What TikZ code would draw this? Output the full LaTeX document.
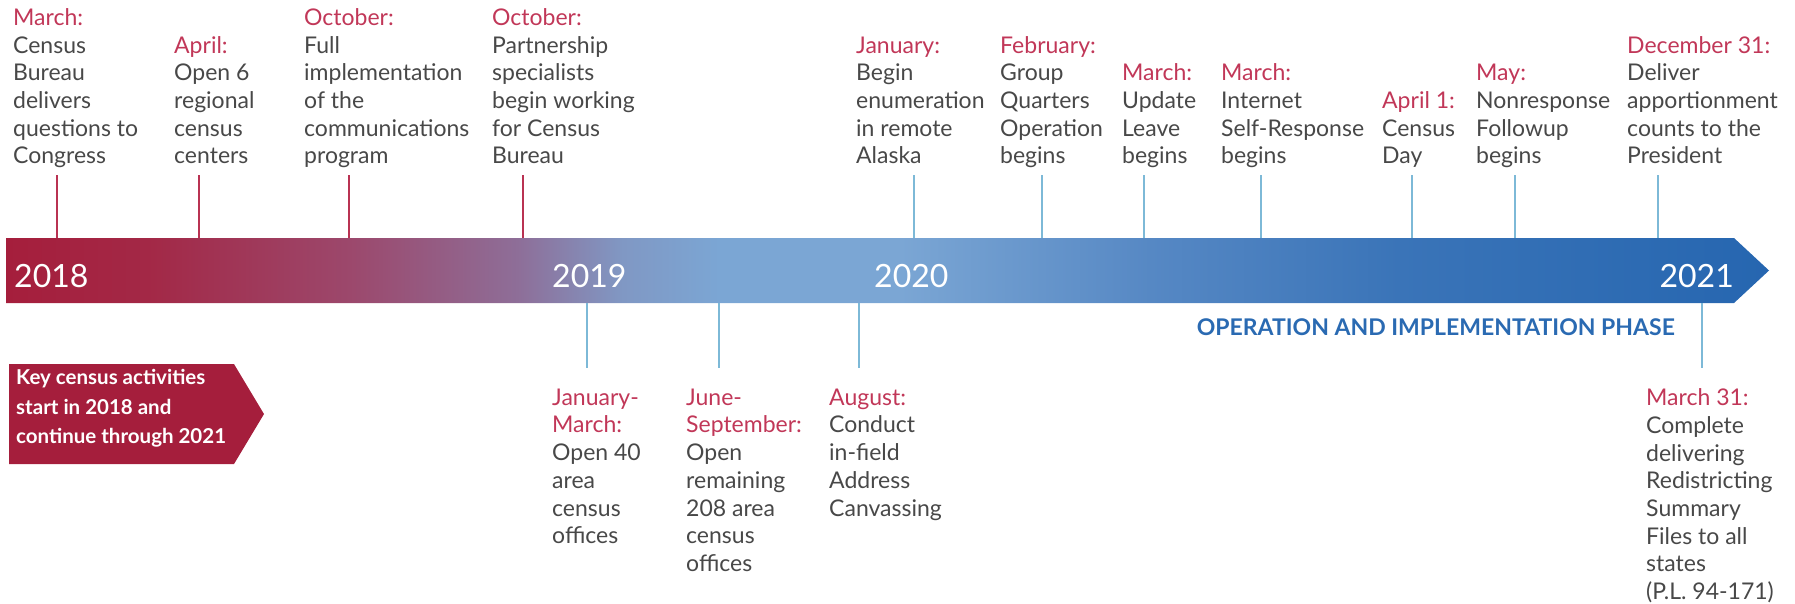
\documentclass[tikz,border=0pt]{standalone}
\usepackage{fontspec}
\setmainfont{Lato}

\definecolor{evgray}{RGB}{72,72,72}
\definecolor{monred}{RGB}{193,55,88}
\definecolor{keyred}{RGB}{165,30,60}
\definecolor{tickred}{RGB}{185,50,82}
\definecolor{tickblue}{RGB}{125,185,215}
\definecolor{phaseblue}{RGB}{42,106,178}
\definecolor{barA}{RGB}{165,30,60}
\definecolor{barB}{RGB}{163,40,70}
\definecolor{barC}{RGB}{156,72,108}
\definecolor{barD}{RGB}{142,110,152}
\definecolor{barE}{RGB}{128,152,196}
\definecolor{barF}{RGB}{123,166,212}
\definecolor{barG}{RGB}{86,136,196}
\definecolor{barH}{RGB}{58,116,184}
\definecolor{barI}{RGB}{38,102,176}

\pgfdeclarehorizontalshading{timeline}{100bp}{color(0bp)=(barA); color(25bp)=(barA);
  color(29bp)=(barB); color(34.75bp)=(barC); color(39.5bp)=(barD); color(42.5bp)=(barE);
  color(45.25bp)=(barF); color(50.35bp)=(barF); color(57.45bp)=(barG); color(64.5bp)=(barH);
  color(75bp)=(barI); color(100bp)=(barI)}

\newcommand\evfont{\fontsize{23}{27.7}\selectfont}
\newcommand\evstrut{\rule[-8.3pt]{0pt}{27.7pt}}
\newcommand\keystrut{\rule[-8.85pt]{0pt}{29.5pt}}
\newcommand\mon[1]{{\color{monred}#1}}

\begin{document}
\begin{tikzpicture}[x=1pt, y=-1pt,
  evtext/.style={align=left, inner sep=0pt, text=evgray, font=\evfont,
    execute at begin node=\evstrut, execute at end node=\evstrut},
  topev/.style={evtext, anchor=south west},
  botev/.style={evtext, anchor=north west},
  redtick/.style={draw=tickred, line width=1.4pt},
  bluetick/.style={draw=tickblue, line width=1.4pt},
  yearlab/.style={text=white, inner sep=0pt, font=\fontsize{32}{38}\selectfont},
  keytext/.style={align=left, inner sep=0pt, text=white, anchor=north west,
    font=\fontsize{20.5}{29.5}\selectfont\bfseries,
    execute at begin node=\keystrut, execute at end node=\keystrut}]
  \useasboundingbox (0,0) rectangle (1795,603); % same box as the reference

  % --- the time bar ---
  \shade[shading=timeline] (6,238) -- (1734,238) -- (1769,270.5) -- (1734,303) -- (6,303) -- cycle;
  \coordinate (bartop) at (6,238);
  \coordinate (barbot) at (6,303);

  \node[yearlab, anchor=base west] (y18) at (14,287) {2018};
  \node[yearlab, anchor=base west] (y19) at (552,287) {2019};
  \node[yearlab, anchor=base west] (y20) at (874,287) {2020};
  \node[yearlab, anchor=base east] (y21) at (1734,287) {2021};

  \node[font=\fontsize{23}{27}\selectfont\bfseries, text=phaseblue, anchor=base east, inner sep=0pt]
    (phase) at (1675,335) {OPERATION AND IMPLEMENTATION PHASE};

  % --- key box ---
  \fill[keyred] (9,364) -- (234,364) -- (264,414) -- (234,464) -- (9,464) -- cycle;
  \node[keytext] (key) at (16,369.4) {Key census activities\\start in 2018 and\\continue through 2021};

  % --- events above the bar ---
  \node[topev] (ev1)  at (13,172.3)   {\mon{March:}\\Census\\Bureau\\delivers\\questions to\\Congress};
  \node[topev] (ev2)  at (174,172.3)  {\mon{April:}\\Open 6\\regional\\census\\centers};
  \node[topev] (ev3)  at (304,172.3)  {\mon{October:}\\Full\\implementation\\of the\\communications\\program};
  \node[topev] (ev4)  at (492,172.3)  {\mon{October:}\\Partnership\\specialists\\begin working\\for Census\\Bureau};
  \node[topev] (ev5)  at (856,172.3)  {\mon{January:}\\Begin\\enumeration\\in remote\\Alaska};
  \node[topev] (ev6)  at (1000,172.3) {\mon{February:}\\Group\\Quarters\\Operation\\begins};
  \node[topev] (ev7)  at (1122,172.3) {\mon{March:}\\Update\\Leave\\begins};
  \node[topev] (ev8)  at (1221,172.3) {\mon{March:}\\Internet\\Self-Response\\begins};
  \node[topev] (ev9)  at (1382,172.3) {\mon{April 1:}\\Census\\Day};
  \node[topev] (ev10) at (1476,172.3) {\mon{May:}\\Nonresponse\\Followup\\begins};
  \node[topev] (ev11) at (1627,172.3) {\mon{December 31:}\\Deliver\\apportionment\\counts to the\\President};

  % --- events below the bar ---
  \node[botev] (ev12) at (552,388.6)  {\mon{January-}\\\mon{March:}\\Open 40\\area\\census\\offices};
  \node[botev] (ev13) at (686,388.6)  {\mon{June-}\\\mon{September:}\\Open\\remaining\\208 area\\census\\offices};
  \node[botev] (ev14) at (829,388.6)  {\mon{August:}\\Conduct\\in-field\\Address\\Canvassing};
  \node[botev] (ev15) at (1646,388.6) {\mon{March 31:}\\Complete\\delivering\\Redistricting\\Summary\\Files to all\\states\\(P.L. 94-171)};

  % --- ticks ---
  \foreach \n/\xx in {1/57,2/199,3/349,4/523}{
    \coordinate (tk\n) at (\xx,175);
    \draw[redtick] (tk\n) -- (tk\n |- bartop);}
  \foreach \n/\xx in {5/914,6/1042,7/1144,8/1261,9/1412,10/1515,11/1658}{
    \coordinate (tk\n) at (\xx,175);
    \draw[bluetick] (tk\n) -- (tk\n |- bartop);}
  \foreach \n/\xx in {12/587,13/719,14/859,15/1702}{
    \coordinate (tk\n) at (\xx,368);
    \draw[bluetick] (barbot -| tk\n) -- (tk\n);}
\end{tikzpicture}
\end{document}
